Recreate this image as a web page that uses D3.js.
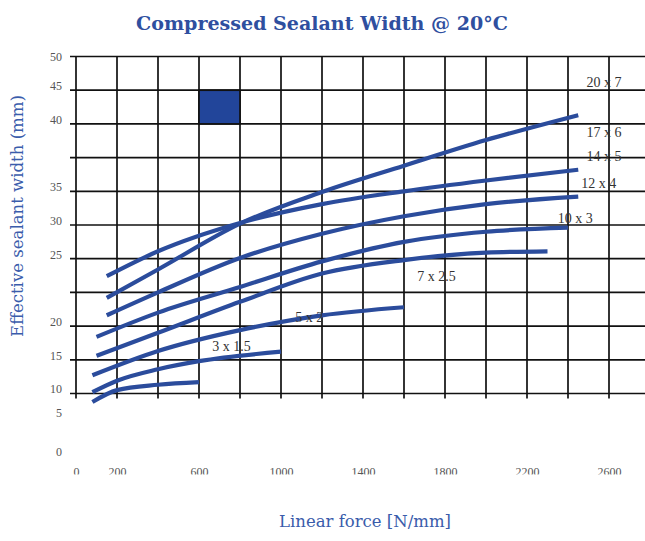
<!DOCTYPE html>
<html>
<head>
<meta charset="utf-8">
<script src="https://cdn.jsdelivr.net/npm/d3@7"></script>
<style>
  html, body { margin: 0; padding: 0; background: #fff; }
  svg { display: block; }
</style>
</head>
<body>
<svg id="chart" width="645" height="541"></svg>
<script>
// x: linear force [N/mm], y: effective sealant width (mm) as labelled on the sheet
const xGridValues = [0, 200, 400, 600, 800, 1000, 1200, 1400, 1600, 1800, 2000, 2200, 2400, 2600, 2800]
const xTickLabels = [0, 200, 600, 1000, 1400, 1800, 2200, 2600]
const yTickLabels = [0, 5, 10, 15, 20, 25, 30, 35, 40, 45, 50]
// grid row each y label sits on (the sheet's axis is not evenly spaced)
const yTickRows = [-1.85, -0.7, 0, 1, 2, 4, 5, 6, 8, 9, 9.85]
const yGridRows = [0, 1, 2, 3, 4, 5, 6, 7, 8, 9, 10]

const force1 = [150, 400, 800, 1200, 1600, 2000, 2450]
const width1 = [22.1, 24.2, 30.2, 34.9, 36.9, 38.8, 41.3]
const force2 = [150, 400, 800, 1200, 1600, 2000, 2450]
const width2 = [23.7, 26.1, 30.3, 33.1, 35.0, 35.8, 36.6]
const force3 = [150, 400, 800, 1200, 1600, 2000, 2450]
const width3 = [20.8, 22.5, 25.1, 28.7, 31.3, 33.1, 34.2]
const force4 = [100, 400, 800, 1200, 1600, 2000, 2400]
const width4 = [18.4, 21.0, 22.9, 24.8, 27.5, 29.0, 29.6]
const force5 = [100, 400, 800, 1200, 1600, 2000, 2300]
const width5 = [15.6, 19.0, 21.8, 23.9, 24.9, 25.9, 26.1]
const force6 = [80, 400, 800, 1200, 1600]
const width6 = [12.7, 16.3, 19.4, 20.8, 21.4]
const force7 = [80, 200, 400, 600, 1000]
const width7 = [10.2, 11.9, 13.6, 14.8, 16.2]
const force8 = [80, 200, 400, 600]
const width8 = [8.2, 10.5, 11.3, 11.7]

const sizeLabels = ["20 x 7", "17 x 6", "14 x 5", "12 x 4", "10 x 3", "7 x 2.5", "5 x 2", "3 x 1.5"]
const labelForce = [2490, 2490, 2490, 2465, 2350, 1665, 1070, 665]
const labelWidth = [46.5, 39.4, 37.6, 35.6, 31.0, 23.7, 20.7, 17.0]

// legend swatch cell
const swatchForce = [600, 800]
const swatchWidth = [40, 45]

const series = [
  [force1, width1], [force2, width2], [force3, width3], [force4, width4],
  [force5, width5], [force6, width6], [force7, width7], [force8, width8]
].map(([f, w]) => f.map((v, i) => [v, w[i]]))

const plotLeft = 76, plotTop = 56.5, plotBottom = 393.5, plotRight = 650
const blue = "#2b4c9c"

const svg = d3.select("#chart")

const x = d3.scaleLinear().domain([0, 2800]).range([plotLeft, plotRight])
const row = d3.scaleLinear().domain([0, 10]).range([plotBottom, plotTop])
const y = d3.scaleLinear().domain(yTickLabels).range(yTickRows.map(row))

// grid
const grid = svg.append("g").attr("stroke", "#111").attr("stroke-width", 1.7)
grid.selectAll("line.h")
  .data(yGridRows)
  .join("line")
  .attr("class", "h")
  .attr("x1", plotLeft - 6)
  .attr("x2", plotRight)
  .attr("y1", d => row(d))
  .attr("y2", d => row(d))
grid.selectAll("line.v")
  .data(xGridValues)
  .join("line")
  .attr("class", "v")
  .attr("x1", d => x(d))
  .attr("x2", d => x(d))
  .attr("y1", plotTop)
  .attr("y2", plotBottom + 5)

svg.append("rect")
  .attr("x", x(swatchForce[0]))
  .attr("y", y(swatchWidth[1]))
  .attr("width", x(swatchForce[1]) - x(swatchForce[0]))
  .attr("height", y(swatchWidth[0]) - y(swatchWidth[1]))
  .attr("fill", "#22459a")
  .attr("stroke", "#111")
  .attr("stroke-width", 1.7)

// axes labels
const yAxis = svg.append("g")
  .attr("transform", `translate(${plotLeft},0)`)
  .call(d3.axisLeft(y).tickValues(yTickLabels).tickSize(0).tickPadding(14))
yAxis.select(".domain").remove()
yAxis.selectAll("text")
  .attr("dy", "-0.05em")
  .attr("fill", "#555")
  .attr("font-family", "Liberation Serif, serif")
  .attr("font-size", 12)

// the sheet shows only the upper part of the x tick numbers
svg.append("clipPath").attr("id", "xclip")
  .append("rect").attr("x", 0).attr("y", 440).attr("width", 645).attr("height", 34.5)

const xAxis = svg.append("g")
  .attr("clip-path", "url(#xclip)")
  .append("g")
  .attr("transform", "translate(0,467.5)")
  .call(d3.axisBottom(x).tickValues(xTickLabels).tickFormat(d3.format("d")).tickSize(0).tickPadding(0))
xAxis.select(".domain").remove()
xAxis.selectAll("text")
  .attr("fill", "#555")
  .attr("font-family", "Liberation Serif, serif")
  .attr("font-size", 12)

// curves
const line = d3.line()
  .x(d => x(d[0]))
  .y(d => y(d[1]))
  .curve(d3.curveMonotoneX)

svg.append("g")
  .selectAll("path")
  .data(series)
  .join("path")
  .attr("d", line)
  .attr("fill", "none")
  .attr("stroke", blue)
  .attr("stroke-width", 4.2)

svg.append("g")
  .selectAll("text")
  .data(sizeLabels)
  .join("text")
  .attr("x", (d, i) => x(labelForce[i]))
  .attr("y", (d, i) => y(labelWidth[i]))
  .attr("dy", "0.35em")
  .attr("fill", "#333")
  .attr("font-family", "Liberation Serif, serif")
  .attr("font-size", 14)
  .text(d => d)

// titles, sized to the widths they take on the sheet
function fitText(sel, size, target) {
  sel.attr("font-size", size)
  sel.attr("font-size", size * target / sel.node().getComputedTextLength())
}

const title = svg.append("text")
  .attr("x", 322)
  .attr("y", 30)
  .attr("text-anchor", "middle")
  .attr("fill", "#2f4f9f")
  .attr("font-family", "DejaVu Serif, serif")
  .attr("font-weight", "bold")
  .text("Compressed Sealant Width @ 20°C")
fitText(title, 19, 372)

const yTitle = svg.append("text")
  .attr("transform", "translate(23,216) rotate(-90)")
  .attr("text-anchor", "middle")
  .attr("fill", "#3a5cab")
  .attr("font-family", "DejaVu Serif, serif")
  .text("Effective sealant width (mm)")
fitText(yTitle, 13, 242)

const xTitle = svg.append("text")
  .attr("x", 365)
  .attr("y", 527)
  .attr("text-anchor", "middle")
  .attr("fill", "#3a5cab")
  .attr("font-family", "DejaVu Serif, serif")
  .text("Linear force [N/mm]")
fitText(xTitle, 13, 172)
</script>
</body>
</html>
